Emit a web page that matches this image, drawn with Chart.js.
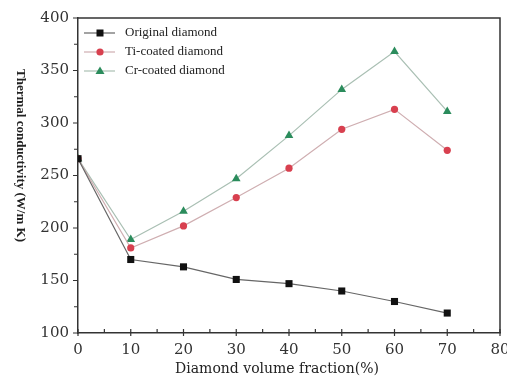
<!DOCTYPE html>
<html>
<head>
<meta charset="utf-8">
<script src="https://cdn.jsdelivr.net/npm/chart.js@4"></script>
<style>
  html, body { margin: 0; padding: 0; background: #fff; }
  #wrap { width: 507px; height: 378px; }
</style>
</head>
<body>
<div id="wrap"><canvas id="tc"></canvas></div>
<script>
// volume fraction (%) and thermal conductivity (W/m K)
const fractions = [0, 10, 20, 30, 40, 50, 60, 70];
const original = [266, 170, 163, 151, 147, 140, 130, 119];
const tiCoated = [266, 181, 202, 229, 257, 294, 313, 274];
const crCoated = [266, 189, 216, 247, 288, 332, 368, 311];
const xTicks = [0, 10, 20, 30, 40, 50, 60, 70, 80];
const yTicks = [100, 150, 200, 250, 300, 350, 400];

const serif = '"Liberation Serif", "DejaVu Serif", serif';
const wideSerif = '"DejaVu Serif", serif';
const axisColor = '#333';

function pts(ys) {
  return fractions.map((x, i) => ({ x: x, y: ys[i] }));
}

function drawMarker(ctx, style, x, y, color) {
  ctx.save();
  ctx.fillStyle = color;
  ctx.beginPath();
  if (style === 'rect') {
    ctx.rect(x - 3.5, y - 3.5, 7, 7);
  } else if (style === 'circle') {
    ctx.arc(x, y, 3.6, 0, Math.PI * 2);
  } else {
    ctx.moveTo(x, y - 4.5);
    ctx.lineTo(x + 4.5, y + 3);
    ctx.lineTo(x - 4.5, y + 3);
    ctx.closePath();
  }
  ctx.fill();
  ctx.restore();
}

// frame, minor/major ticks, axis titles and the legend
const decor = {
  id: 'decor',
  afterDraw(chart) {
    const { ctx, chartArea: a, scales } = chart;
    ctx.save();
    ctx.strokeStyle = axisColor;
    ctx.lineWidth = 1.5;
    ctx.beginPath();
    ctx.moveTo(a.left, a.top);
    ctx.lineTo(a.right, a.top);
    ctx.lineTo(a.right, a.bottom);
    ctx.stroke();

    ctx.lineWidth = 1.2;
    ctx.beginPath();
    for (let v = 0; v <= 80; v += 5) {
      const px = scales.x.getPixelForValue(v);
      ctx.moveTo(px, a.bottom - 4);
      ctx.lineTo(px, v % 10 === 0 ? a.bottom + 3 : a.bottom);
    }
    for (let v = 100; v <= 400; v += 25) {
      const py = scales.y.getPixelForValue(v);
      ctx.moveTo(a.left - (v % 50 === 0 ? 5 : 4), py);
      ctx.lineTo(a.left, py);
    }
    ctx.stroke();

    ctx.fillStyle = '#222';
    ctx.textAlign = 'center';
    ctx.textBaseline = 'middle';
    ctx.font = '14px ' + wideSerif;
    ctx.fillText('Diamond volume fraction(%)', (a.left + a.right) / 2 - 12, 369);

    ctx.save();
    ctx.translate(20, (a.top + a.bottom) / 2 - 20);
    ctx.rotate(Math.PI / 2);
    ctx.font = 'bold 13px ' + serif;
    ctx.fillText('Thermal conductivity (W/m K)', 0, 0);
    ctx.restore();

    ctx.textAlign = 'left';
    ctx.font = '13px ' + serif;
    chart.data.datasets.forEach((ds, i) => {
      const y = a.top + 15 + i * 19;
      const x0 = a.left + 6;
      ctx.strokeStyle = ds.borderColor;
      ctx.lineWidth = 1.2;
      ctx.beginPath();
      ctx.moveTo(x0, y);
      ctx.lineTo(x0 + 31, y);
      ctx.stroke();
      drawMarker(ctx, ds.pointStyle, x0 + 16, y, ds.pointBackgroundColor);
      ctx.fillStyle = '#222';
      ctx.fillText(ds.label, x0 + 41, y);
    });
    ctx.restore();
  }
};

new Chart(document.getElementById('tc'), {
  type: 'line',
  data: {
    datasets: [
      {
        label: 'Original diamond',
        data: pts(original),
        borderColor: '#666',
        borderWidth: 1.2,
        pointStyle: 'rect',
        pointRadius: 5,
        pointBackgroundColor: '#111',
        pointBorderWidth: 0
      },
      {
        label: 'Ti-coated diamond',
        data: pts(tiCoated),
        borderColor: '#cfaeb1',
        borderWidth: 1.2,
        pointStyle: 'circle',
        pointRadius: 3.6,
        pointBackgroundColor: '#d8404f',
        pointBorderWidth: 0
      },
      {
        label: 'Cr-coated diamond',
        data: pts(crCoated),
        borderColor: '#a9bfb3',
        borderWidth: 1.2,
        pointStyle: 'triangle',
        pointRadius: 5,
        pointBackgroundColor: '#2b8c5c',
        pointBorderWidth: 0
      }
    ]
  },
  options: {
    responsive: true,
    maintainAspectRatio: false,
    animation: false,
    layout: { padding: { top: 17, right: 7 } },
    plugins: { legend: { display: false }, tooltip: { enabled: false } },
    scales: {
      x: {
        type: 'linear',
        min: 0,
        max: 80,
        afterBuildTicks: s => { s.ticks = xTicks.map(v => ({ value: v })); },
        afterFit: s => { s.height = 45; s.paddingRight = 0; },
        grid: { drawOnChartArea: false, drawTicks: false },
        border: { color: axisColor, width: 1.5 },
        ticks: { padding: 8, color: '#333', font: { family: wideSerif, size: 15 } }
      },
      y: {
        min: 100,
        max: 400,
        afterBuildTicks: s => { s.ticks = yTicks.map(v => ({ value: v })); },
        afterFit: s => { s.width = 78; },
        grid: { drawOnChartArea: false, drawTicks: false },
        border: { color: axisColor, width: 1.5 },
        ticks: { padding: 9, color: '#333', font: { family: wideSerif, size: 15 } }
      }
    }
  },
  plugins: [decor]
});
</script>
</body>
</html>
